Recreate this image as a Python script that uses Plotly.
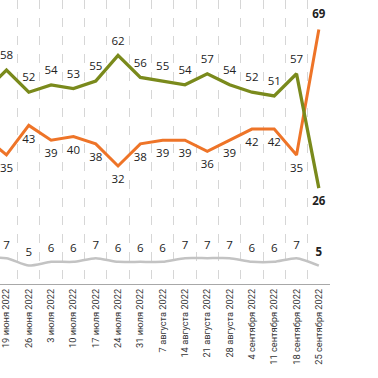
import plotly.graph_objects as go

dates = ["12 июня 2022", "19 июня 2022", "26 июня 2022", "3 июля 2022", "10 июля 2022",
         "17 июля 2022", "24 июля 2022", "31 июля 2022", "7 августа 2022",
         "14 августа 2022", "21 августа 2022", "28 августа 2022", "4 сентября 2022",
         "11 сентября 2022", "18 сентября 2022", "25 сентября 2022"]
green = [52, 58, 52, 54, 53, 55, 62, 56, 55, 54, 57, 54, 52, 51, 57, 26]
orange = [40, 35, 43, 39, 40, 38, 32, 38, 39, 39, 36, 39, 42, 42, 35, 69]
gray = [7, 7, 5, 6, 6, 7, 6, 6, 6, 7, 7, 7, 6, 6, 7, 5]

def labels(vals):
    out = [str(v) for v in vals]
    out[0] = ""
    return out

weights = ["normal"] * (len(dates) - 1) + ["bold"]
green_pos = ["top center"] * (len(green) - 1) + ["bottom center"]
orange_pos = ["bottom center"] * (len(orange) - 1) + ["top center"]
font = dict(size=11.5, color="#222222", family="Open Sans", weight=weights)

fig = go.Figure()
fig.add_trace(go.Scatter(x=dates, y=gray, mode="lines+markers+text", text=labels(gray),
                         textposition="top center", marker=dict(size=9, color="rgba(0,0,0,0)"),
                         line=dict(color="#c3c3c3", width=2.5, shape="spline", smoothing=0.6),
                         textfont=font, cliponaxis=False, hoverinfo="skip"))
fig.add_trace(go.Scatter(x=dates, y=orange, mode="lines+markers+text", text=labels(orange),
                         textposition=orange_pos, marker=dict(size=12, color="rgba(0,0,0,0)"),
                         line=dict(color="#ee7428", width=3),
                         textfont=font, cliponaxis=False, hoverinfo="skip"))
fig.add_trace(go.Scatter(x=dates, y=green, mode="lines+markers+text", text=labels(green),
                         textposition=green_pos, marker=dict(size=11, color="rgba(0,0,0,0)"),
                         line=dict(color="#7a8a1c", width=3.3),
                         textfont=font, cliponaxis=False, hoverinfo="skip"))

fig.update_layout(
    width=378, height=378,
    margin=dict(l=0, r=48, t=0, b=94),
    paper_bgcolor="white", plot_bgcolor="white",
    showlegend=False,
    xaxis=dict(type="category", range=[0.71, 15.5], tickangle=-90,
               tickson="boundaries", showgrid=True, gridcolor="#d6d6d6",
               griddash="dash", gridwidth=1, ticks="", showline=True,
               linecolor="#a8a8a8", linewidth=1, automargin=False,
               tickfont=dict(size=9.3, color="#333333", family="Roboto")),
    yaxis=dict(range=[0, 77], visible=False),
)

fig.write_html("out.html", config={"displayModeBar": False},
               post_script="document.body.style.margin='0px';")
